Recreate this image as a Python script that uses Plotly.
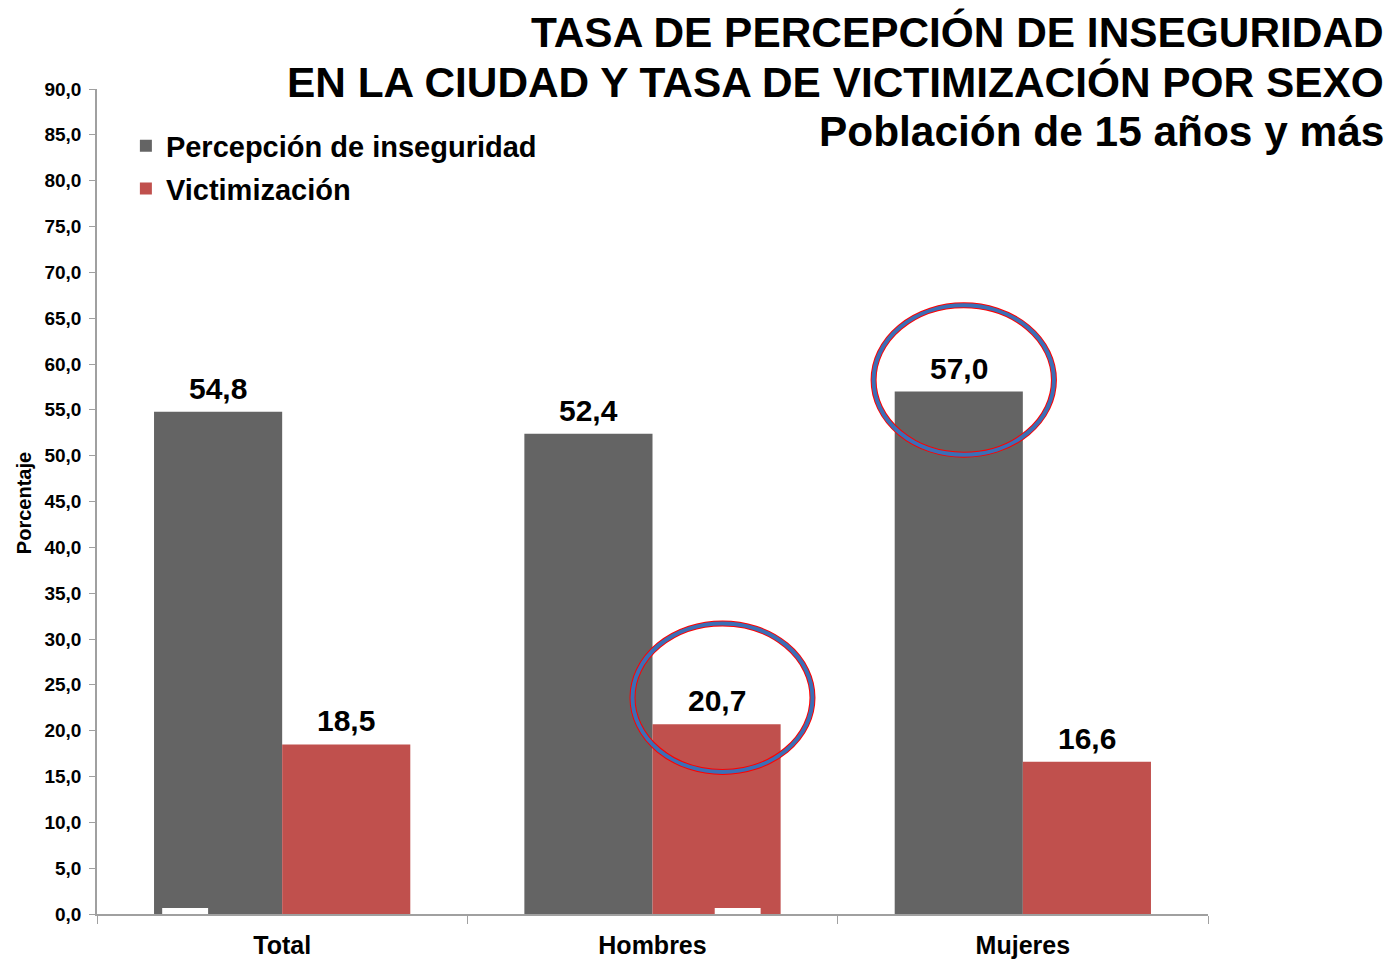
import plotly.graph_objects as go

categories = ["Total", "Hombres", "Mujeres"]
percepcion = [54.8, 52.4, 57.0]
victimizacion = [18.5, 20.7, 16.6]
y_ticks = [i * 5 for i in range(19)]
y_tick_labels = [f"<b>{t:.1f}</b>".replace(".", ",") for t in y_ticks]

FONT = "Arial, Liberation Sans, sans-serif"
GRAY = "#646464"
RED = "#C0504D"
BAR_HALF = 0.173  # half of bar width in category units (bargap 0.308, 2 bars)

fig = go.Figure()
fig.add_trace(go.Bar(
    x=categories, y=percepcion, name="<b>Percepción de inseguridad</b>",
    marker=dict(color=GRAY, line=dict(width=0)), legendgroup="a",
))
fig.add_trace(go.Bar(
    x=categories, y=victimizacion, name="<b>Victimización</b>",
    marker=dict(color=RED, line=dict(width=0)), legendgroup="b",
))

# value labels above bars
for i, v in enumerate(percepcion):
    fig.add_annotation(x=i - BAR_HALF, y=v, xref="x", yref="y", yanchor="bottom",
                       text=f"<b>{v:.1f}</b>".replace(".", ","), showarrow=False, yshift=5,
                       font=dict(size=30, color="black", family=FONT))
for i, v in enumerate(victimizacion):
    fig.add_annotation(x=i + BAR_HALF, y=v, xref="x", yref="y", yanchor="bottom",
                       text=f"<b>{v:.1f}</b>".replace(".", ","), showarrow=False, yshift=5,
                       font=dict(size=30, color="black", family=FONT))

# small white marks at the baseline
for (x0, x1) in [(-0.324, -0.2), (1.168, 1.292)]:
    fig.add_shape(type="rect", xref="x", yref="y", x0=x0, x1=x1, y0=0, y1=0.65,
                  fillcolor="white", line=dict(width=0), layer="above")

# highlight ellipses (red outline + blue ring)
for (x0, x1, y0, y1) in [(1.597, 2.084, 50.1, 66.4), (0.946, 1.432, 15.5, 31.7)]:
    fig.add_shape(type="circle", xref="x", yref="y", x0=x0, x1=x1, y0=y0, y1=y1,
                  line=dict(color="#FF0000", width=6), layer="above")
    fig.add_shape(type="circle", xref="x", yref="y", x0=x0, x1=x1, y0=y0, y1=y1,
                  line=dict(color="#3B6FB6", width=4), layer="above")

title_lines = [
    ("TASA DE PERCEPCIÓN DE INSEGURIDAD", 1.069),
    ("EN LA CIUDAD Y TASA DE VICTIMIZACIÓN POR SEXO", 1.0085),
    ("Población de 15 años y más", 0.948),
]
for txt, yy in title_lines:
    fig.add_annotation(
        xref="paper", yref="paper", x=1.1602, y=yy, xanchor="right", yanchor="middle",
        align="right", showarrow=False, text=f"<b>{txt}</b>",
        font=dict(size=42.4, color="black", family=FONT),
    )

# y-axis title
fig.add_annotation(
    xref="paper", yref="paper", x=-0.0657, y=0.498, xanchor="center", yanchor="middle",
    textangle=-90, showarrow=False, text="<b>Porcentaje</b>",
    font=dict(size=20, color="black", family=FONT),
)

fig.update_layout(
    width=1392, height=960,
    margin=dict(l=97, r=184, t=89, b=46, autoexpand=False),
    paper_bgcolor="white", plot_bgcolor="white",
    separators=",.",
    barmode="group", bargap=0.308, bargroupgap=0,
    showlegend=True,
    legend=dict(x=0.026, y=0.962, xanchor="left", yanchor="top",
                font=dict(size=29, color="black", family=FONT),
                bgcolor="rgba(0,0,0,0)", tracegroupgap=2),
    font=dict(family=FONT, color="black"),
)
fig.update_yaxes(
    range=[0, 90], tickvals=y_ticks, ticktext=y_tick_labels,
    ticks="outside", ticklen=6, tickcolor="#A0A0A0",
    showline=True, linecolor="#A0A0A0", linewidth=1.5,
    showgrid=False, zeroline=False, automargin=False,
    tickfont=dict(size=19, family=FONT, color="black"), ticklabelstandoff=4,
)
fig.update_xaxes(
    ticks="outside", tickson="boundaries", ticklen=8, tickcolor="#A0A0A0",
    showline=True, linecolor="#A0A0A0", linewidth=1.5, automargin=False,
    tickfont=dict(size=25, family=FONT, color="black"),
    tickprefix="<b>", ticksuffix="</b>", ticklabelstandoff=8,
)

fig.write_html("out.html", config={"displayModeBar": False},
               post_script="document.body.style.margin='0';")
